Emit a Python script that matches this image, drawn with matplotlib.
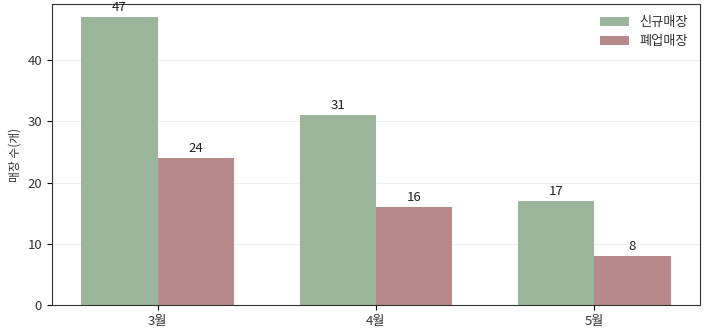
import matplotlib
matplotlib.use("Agg")
import matplotlib.pyplot as plt
import numpy as np

plt.rcParams['font.family'] = ['Noto Sans CJK KR', 'DejaVu Sans']

months = ['3월', '4월', '5월']
new_stores = [47, 31, 17]
closed_stores = [24, 16, 8]
series_labels = ['신규매장', '폐업매장']

fig, ax = plt.subplots(figsize=(7.1, 3.32), dpi=100)
fig.subplots_adjust(left=0.073, right=0.986, top=0.988, bottom=0.08)

x = np.arange(len(months))
w = 0.35
b1 = ax.bar(x - w/2, new_stores, w, color='#9bb59b', label=series_labels[0])
b2 = ax.bar(x + w/2, closed_stores, w, color='#b68a8a', label=series_labels[1])

for bars in (b1, b2):
    for r in bars:
        ax.text(r.get_x() + r.get_width()/2, r.get_height() + 0.5, f'{int(r.get_height())}',
                ha='center', va='bottom', fontsize=9.5, fontweight='medium', color='#222222')

ax.set_xticks(x)
ax.set_xticklabels(months, fontsize=9.5, color='#333333')
ax.tick_params(axis='y', labelsize=9.5, labelcolor='#333333')
ax.set_ylabel('매장 수(개)', fontsize=8.5, color='#333333')
ax.set_ylim(0, 49.1)
ax.set_yticks([0, 10, 20, 30, 40])
ax.yaxis.grid(True, color='#eeeeee', linewidth=0.8)
ax.set_axisbelow(True)
for s in ax.spines.values():
    s.set_color('#333333')
leg = ax.legend(loc='upper right', frameon=False, fontsize=9.5, handlelength=2.2)
for t in leg.get_texts():
    t.set_color('#333333')

fig.savefig('out.png')
